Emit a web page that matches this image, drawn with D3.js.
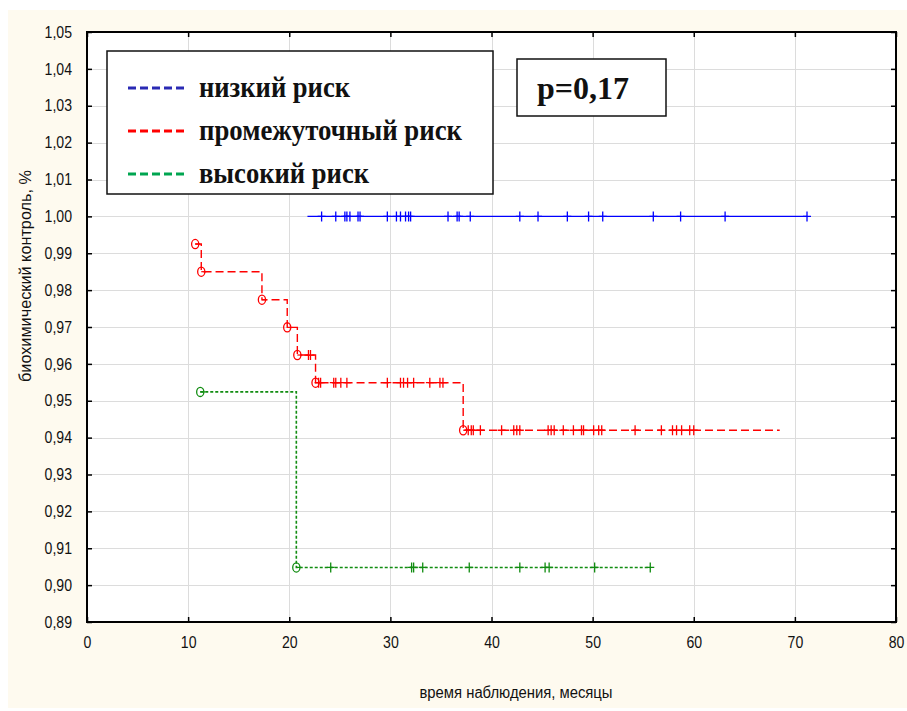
<!DOCTYPE html>
<html>
<head>
<meta charset="utf-8">
<script src="https://cdn.jsdelivr.net/npm/d3@7"></script>
<style>
  html, body { margin: 0; padding: 0; background: #ffffff; }
  svg { display: block; }
</style>
</head>
<body>
<svg id="chart" width="907" height="711"></svg>
<script>
// Axis ticks
const xTicks = [0, 10, 20, 30, 40, 50, 60, 70, 80];
const yTicks = [0.89, 0.90, 0.91, 0.92, 0.93, 0.94, 0.95, 0.96, 0.97, 0.98, 0.99, 1.00, 1.01, 1.02, 1.03, 1.04, 1.05];

// Series names
const seriesNames = ["низкий риск", "промежуточный риск", "высокий риск"];

// Low risk: no events, curve stays at 1.00
const lowStart = 21.8;
const lowEnd = 71.2;
const lowEventTimes = [];
const lowEventSurv = [];
const lowCensored = [23.2, 24.6, 25.5, 25.7, 26.0, 26.8, 27.0, 29.7, 30.6, 31.0, 31.5, 31.8, 32.0,
  35.7, 36.6, 36.8, 37.9, 42.8, 44.6, 47.5, 49.6, 51.0, 56.0, 58.7, 63.1, 71.2];

// Intermediate risk
const midEventTimes = [10.7, 11.3, 17.3, 19.8, 20.8, 22.6, 37.2];
const midEventSurv = [0.9925, 0.9850, 0.9774, 0.9699, 0.9624, 0.9549, 0.9420];
const midEnd = 68.5;
const midCensored = [21.9, 22.1, 22.9, 23.1, 24.4, 24.6, 25.1, 25.7, 29.7, 31.0, 31.3, 31.7, 32.3,
  33.9, 34.9, 35.2, 37.7, 38.0, 38.2, 38.9, 41.0, 42.2, 42.5, 42.8, 45.6, 45.9, 46.2, 47.1, 48.1,
  48.9, 49.1, 50.1, 50.6, 50.9, 54.2, 56.8, 57.9, 58.3, 58.8, 59.6, 60.0];

// High risk
const highEventTimes = [11.2, 20.7];
const highEventSurv = [0.9524, 0.9048];
const highEnd = 55.7;
const highCensored = [24.1, 32.1, 32.3, 33.2, 37.8, 42.8, 45.3, 45.7, 50.2, 55.7];

const pValueText = "p=0,17";
const xTitle = "время наблюдения, месяцы";
const yTitle = "биохимический контроль, %";

// ---- layout
const svg = d3.select("#chart");
const plot = { left: 87, top: 32, right: 896, bottom: 622 };

const x = d3.scaleLinear().domain([0, 80]).range([plot.left, plot.right]);
const y = d3.scaleLinear().domain([0.89, 1.05]).range([plot.bottom, plot.top]);
const fmt = v => d3.format(".2f")(v).replace(".", ",");

// page background
svg.append("rect").attr("x", 8).attr("y", 10).attr("width", 899).attr("height", 698)
  .attr("fill", "#fefaef");
svg.append("rect").attr("x", plot.left).attr("y", plot.top)
  .attr("width", plot.right - plot.left).attr("height", plot.bottom - plot.top)
  .attr("fill", "#ffffff");

// grid
const grid = svg.append("g").attr("stroke", "#dcdcdc").attr("stroke-width", 1);
grid.selectAll("line.gx").data(xTicks.slice(1, -1)).join("line")
  .attr("x1", d => Math.round(x(d)) + 0.5).attr("x2", d => Math.round(x(d)) + 0.5)
  .attr("y1", plot.top).attr("y2", plot.bottom);
grid.selectAll("line.gy").data(yTicks.slice(1, -1)).join("line")
  .attr("y1", d => Math.round(y(d)) + 0.5).attr("y2", d => Math.round(y(d)) + 0.5)
  .attr("x1", plot.left).attr("x2", plot.right);

// axes with inward ticks on all four sides
const tickLen = 5;
const axisStyle = g => {
  g.select(".domain").remove();
  g.selectAll(".tick line").attr("stroke", "#000").attr("stroke-width", 1.5);
  g.selectAll(".tick text").attr("fill", "#111")
    .style("font-family", "'Liberation Sans', Arial, sans-serif").style("font-size", "16px");
};
svg.append("g").attr("transform", `translate(0,${plot.bottom})`)
  .call(d3.axisBottom(x).tickValues(xTicks).tickSizeInner(-tickLen).tickSizeOuter(0).tickPadding(15).tickFormat(d3.format("d")))
  .call(axisStyle);
svg.append("g").attr("transform", `translate(0,${plot.top})`)
  .call(d3.axisTop(x).tickValues(xTicks).tickSizeInner(-tickLen).tickSizeOuter(0).tickFormat(""))
  .call(axisStyle);
svg.append("g").attr("transform", `translate(${plot.left},0)`)
  .call(d3.axisLeft(y).tickValues(yTicks).tickSizeInner(-tickLen).tickSizeOuter(0).tickPadding(15).tickFormat(fmt))
  .call(axisStyle);
svg.append("g").attr("transform", `translate(${plot.right},0)`)
  .call(d3.axisRight(y).tickValues(yTicks).tickSizeInner(-tickLen).tickSizeOuter(0).tickFormat(""))
  .call(axisStyle);

// slightly condensed tick labels
svg.selectAll(".tick text").each(function () {
  const w = this.getComputedTextLength();
  if (w > 0) d3.select(this).attr("textLength", w * 0.88).attr("lengthAdjust", "spacingAndGlyphs");
});

// frame
svg.append("rect").attr("x", plot.left).attr("y", plot.top)
  .attr("width", plot.right - plot.left).attr("height", plot.bottom - plot.top)
  .attr("fill", "none").attr("stroke", "#000").attr("stroke-width", 2);

// axis titles
svg.append("text").attr("x", 516).attr("y", 698).attr("text-anchor", "middle")
  .attr("textLength", 193).attr("lengthAdjust", "spacingAndGlyphs")
  .style("font-family", "'Liberation Sans', Arial, sans-serif").style("font-size", "16px")
  .attr("fill", "#111").text(xTitle);
svg.append("text").attr("transform", "translate(31,276) rotate(-90)").attr("text-anchor", "middle")
  .attr("textLength", 212).attr("lengthAdjust", "spacingAndGlyphs")
  .style("font-family", "'Liberation Sans', Arial, sans-serif").style("font-size", "16px")
  .attr("fill", "#111").text(yTitle);

// ---- survival curves
const series = [
  { start: lowStart, times: lowEventTimes, surv: lowEventSurv, end: lowEnd, censored: lowCensored,
    color: "#0000ff", dash: null, width: 1.3 },
  { start: midEventTimes[0], times: midEventTimes, surv: midEventSurv, end: midEnd, censored: midCensored,
    color: "#ff0000", dash: "8,4", width: 1.4 },
  { start: highEventTimes[0], times: highEventTimes, surv: highEventSurv, end: highEnd, censored: highCensored,
    color: "#108c10", dash: "3,2", width: 1.6 }
];

function survivalAt(s, t) {
  let v = s.times.length && s.times[0] <= s.start ? s.surv[0] : 1.0;
  s.times.forEach((ti, i) => { if (ti <= t) v = s.surv[i]; });
  return v;
}

const stepLine = d3.line().x(d => x(d[0])).y(d => y(d[1])).curve(d3.curveStepAfter);

series.forEach(s => {
  const pts = [[s.start, survivalAt(s, s.start)]];
  s.times.forEach((t, i) => { if (t > s.start) pts.push([t, s.surv[i]]); });
  pts.push([s.end, survivalAt(s, s.end)]);

  const g = svg.append("g");
  g.append("path").attr("d", stepLine(pts)).attr("fill", "none")
    .attr("stroke", s.color).attr("stroke-width", s.width)
    .attr("stroke-dasharray", s.dash);

  // complete observations: open circle markers
  s.times.forEach((t, i) => {
    const cx = x(t), cy = y(s.surv[i]);
    g.append("ellipse").attr("cx", cx).attr("cy", cy).attr("rx", 3.6).attr("ry", 4.6)
      .attr("fill", "none").attr("stroke", s.color).attr("stroke-width", 1.3);
    g.append("line").attr("x1", cx).attr("x2", cx + 5).attr("y1", cy).attr("y2", cy)
      .attr("stroke", s.color).attr("stroke-width", 1.2);
  });

  // censored observations: plus markers
  g.selectAll("path.cens").data(s.censored).join("path")
    .attr("d", t => {
      const cx = x(t), cy = y(survivalAt(s, t));
      return `M${cx},${cy - 5}V${cy + 5}M${cx - 4},${cy}H${cx + 4}`;
    })
    .attr("stroke", s.color).attr("stroke-width", 1.3).attr("fill", "none");
});

// ---- legend
const legend = svg.append("g");
legend.append("rect").attr("x", 107).attr("y", 51).attr("width", 386).attr("height", 143)
  .attr("fill", "#ffffff").attr("stroke", "#111").attr("stroke-width", 1.5);
const legendColors = ["#2a2ab4", "#ff0000", "#00a550"];
const legendWidths = [151, 263, 170];
seriesNames.forEach((name, i) => {
  const ly = 88 + i * 43;
  legend.append("line").attr("x1", 128).attr("x2", 188).attr("y1", ly).attr("y2", ly)
    .attr("stroke", legendColors[i]).attr("stroke-width", 3).attr("stroke-dasharray", "8,4");
  legend.append("text").attr("x", 199).attr("y", ly + 9)
    .attr("textLength", legendWidths[i]).attr("lengthAdjust", "spacingAndGlyphs")
    .style("font-family", "'Liberation Serif', 'Times New Roman', serif")
    .style("font-size", "29px").style("font-weight", "bold").attr("fill", "#111").text(name);
});

// p-value box
svg.append("rect").attr("x", 517).attr("y", 59).attr("width", 149).attr("height", 57)
  .attr("fill", "#ffffff").attr("stroke", "#111").attr("stroke-width", 1.5);
svg.append("text").attr("x", 583).attr("y", 99).attr("text-anchor", "middle")
  .style("font-family", "'Liberation Serif', 'Times New Roman', serif")
  .style("font-size", "32px").style("font-weight", "bold").attr("fill", "#111").text(pValueText);
</script>
</body>
</html>
